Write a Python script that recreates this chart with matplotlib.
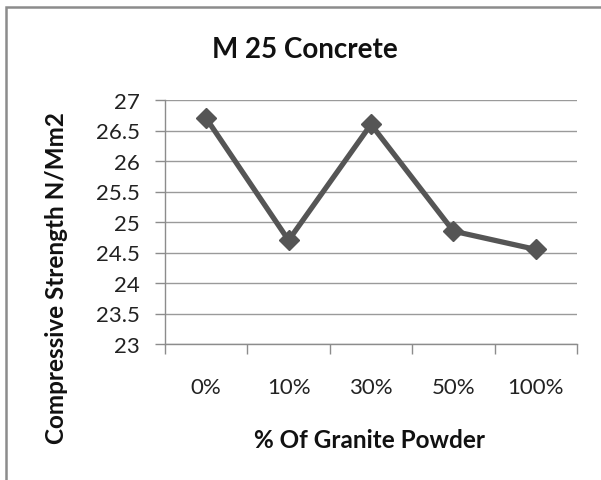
import matplotlib.pyplot as plt
from matplotlib.patches import Rectangle

plt.rcParams['font.family'] = ['Lato', 'DejaVu Sans']

categories = ['0%', '10%', '30%', '50%', '100%']
strength = [26.7, 24.7, 26.6, 24.85, 24.55]
y_ticks = [23, 23.5, 24, 24.5, 25, 25.5, 26, 26.5, 27]
y_labels = ['23', '23.5', '24', '24.5', '25', '25.5', '26', '26.5', '27']

W, H = 601, 481
fig = plt.figure(figsize=(W / 100, H / 100), dpi=100)

# outer chart frame, cut off at right and bottom
fig.patches.append(Rectangle((6 / W, -0.1), 1.2, 1 - 8 / H + 0.1,
                             transform=fig.transFigure, fill=False,
                             edgecolor='#8c8c8c', linewidth=1.8))

ax = fig.add_axes([165 / W, 1 - 345 / H, (577 - 165) / W, (345 - 101) / H])
x = range(len(categories))
ax.plot(x, strength, color='#555555', linewidth=3.8, marker='D',
        markersize=10, markerfacecolor='#555555', markeredgecolor='#555555',
        zorder=3)

ax.set_xlim(-0.5, len(categories) - 0.5)
ax.set_ylim(23, 27)
ax.set_yticks(y_ticks)
ax.set_yticklabels(y_labels)
ax.set_xticks(list(x))
ax.set_xticklabels(categories)
ax.set_xticks([i - 0.5 for i in range(len(categories) + 1)], minor=True)
ax.tick_params(axis='x', which='major', length=0, pad=24, labelsize=16,
               labelcolor='#222222')
ax.tick_params(axis='x', which='minor', length=7, color='#8c8c8c', width=1)
ax.tick_params(axis='y', length=7, color='#8c8c8c', width=1, pad=11,
               labelsize=16, labelcolor='#222222')

ax.grid(axis='y', color='#9a9a9a', linewidth=1)
for s in ['top', 'right']:
    ax.spines[s].set_visible(False)
for s in ['left', 'bottom']:
    ax.spines[s].set_color('#8c8c8c')
    ax.spines[s].set_linewidth(1)

fig.text(305 / W, 1 - 50 / H, 'M 25 Concrete', ha='center', va='center',
         fontsize=20, fontweight='bold', color='#111111')
fig.text(369 / W, 1 - 440 / H, '% Of Granite Powder', ha='center',
         va='center', fontsize=17.5, fontweight='bold', color='#111111')
fig.text(57 / W, 1 - 278 / H, 'Compressive Strength N/Mm2', ha='center',
         va='center', rotation=90, fontsize=17.5, fontweight='bold',
         color='#111111')

fig.savefig('out.png', dpi=100)
